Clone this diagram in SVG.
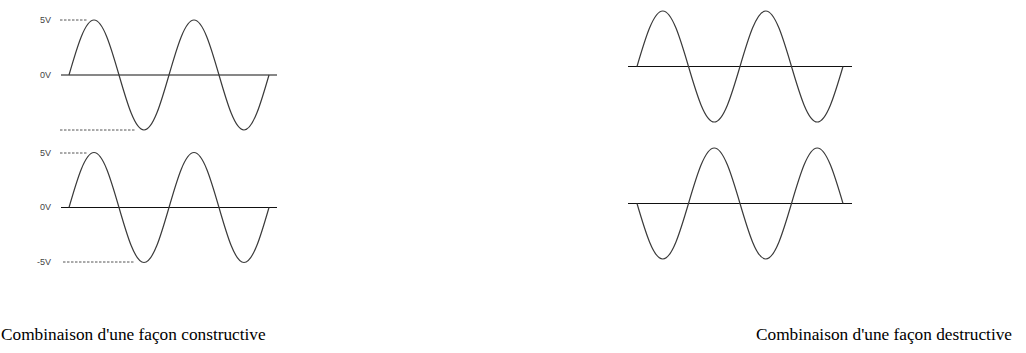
<svg xmlns="http://www.w3.org/2000/svg" width="1026" height="353" viewBox="0 0 1026 353">
<style>
.wave{fill:none;stroke:#3a3a3a;stroke-width:1.2}
.axis{stroke:#111;stroke-width:1.2}
.dash{stroke:#555;stroke-width:1;stroke-dasharray:2.5,1.5}
.lbl{font-family:"Liberation Sans",Arial,sans-serif;font-size:9px;fill:#444}
.cap{font-family:"Liberation Serif","Times New Roman",serif;font-size:17.3px;fill:#000}
</style>
<defs>
<path id="wL" d="M0,0 c8.15,-28.18 15.95,-55 25,-55 c9.05,0 16.85,26.82 25,55 c8.15,28.18 15.95,55 25,55 c9.05,0 16.85,-26.82 25,-55 c8.15,-28.18 15.95,-55 25,-55 c9.05,0 16.85,26.82 25,55 c8.15,28.18 15.95,55 25,55 c9.05,0 16.85,-26.82 25,-55"/>
<path id="wR" d="M0,0 c8.4,-28.43 16.43,-55.5 25.75,-55.5 c9.32,0 17.35,27.07 25.75,55.5 c8.4,28.43 16.43,55.5 25.75,55.5 c9.32,0 17.35,-27.07 25.75,-55.5 c8.4,-28.43 16.43,-55.5 25.75,-55.5 c9.32,0 17.35,27.07 25.75,55.5 c8.4,28.43 16.43,55.5 25.75,55.5 c9.32,0 17.35,-27.07 25.75,-55.5"/>
</defs>
<g id="wave-top-left">
<line class="axis" x1="61" y1="75" x2="277" y2="75"/>
<line class="dash" x1="60" y1="20" x2="88" y2="20"/>
<line class="dash" x1="60" y1="130" x2="135" y2="130"/>
<use href="#wL" class="wave" x="69" y="75"/>
<text class="lbl" x="40" y="23">5V</text>
<text class="lbl" x="40" y="78">0V</text>
</g>
<g id="wave-bottom-left">
<line class="axis" x1="61" y1="207.5" x2="277" y2="207.5"/>
<line class="dash" x1="60" y1="153" x2="88" y2="153"/>
<line class="dash" x1="63" y1="262" x2="135" y2="262"/>
<use href="#wL" class="wave" x="69" y="207.5"/>
<text class="lbl" x="40" y="156">5V</text>
<text class="lbl" x="40" y="210">0V</text>
<text class="lbl" x="37" y="265">-5V</text>
</g>
<g id="wave-top-right">
<line class="axis" x1="628" y1="66.5" x2="852" y2="66.5"/>
<use href="#wR" class="wave" x="637" y="66.5"/>
</g>
<g id="wave-bottom-right">
<line class="axis" x1="628" y1="203.5" x2="852" y2="203.5"/>
<use href="#wR" class="wave" transform="translate(637,203.5) scale(1,-1)"/>
</g>
<g id="captions">
<text class="cap" x="1" y="340">Combinaison d'une façon constructive</text>
<text class="cap" x="756" y="340">Combinaison d'une façon destructive</text>
</g>
</svg>
